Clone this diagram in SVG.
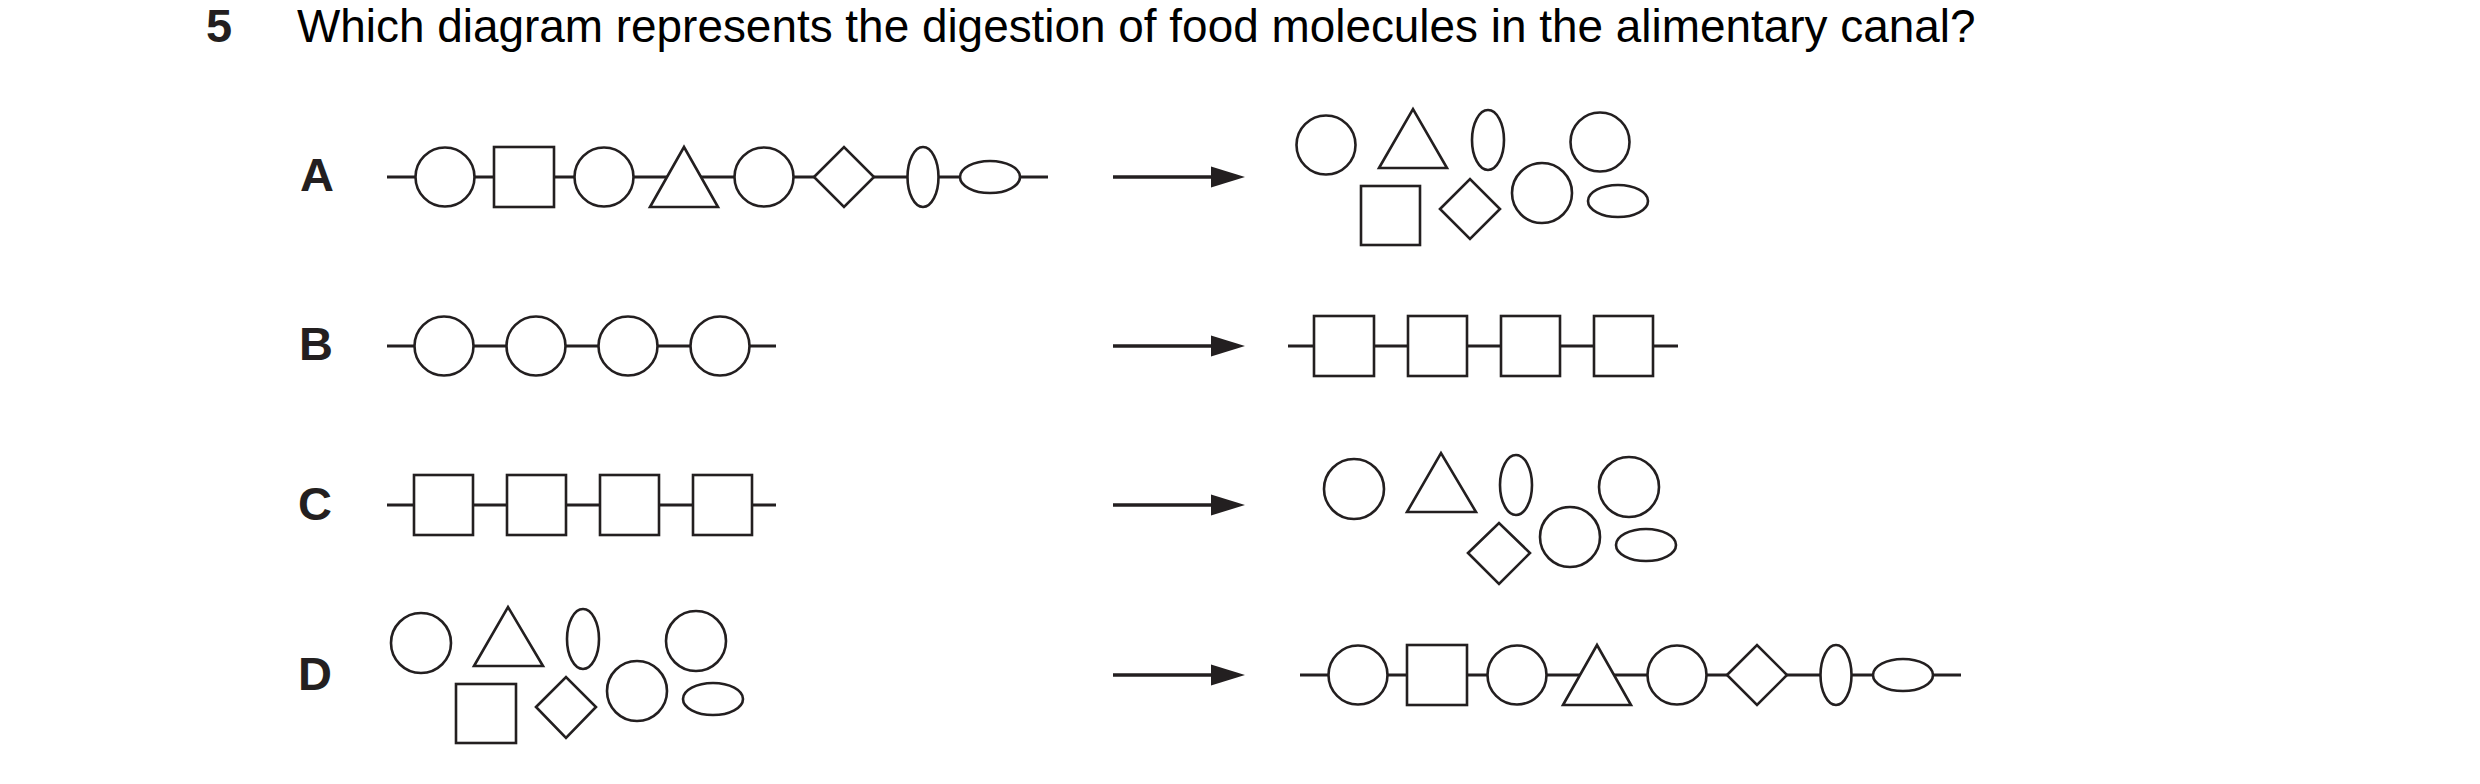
<svg xmlns="http://www.w3.org/2000/svg" xmlns:xlink="http://www.w3.org/1999/xlink" width="2480" height="784" viewBox="0 0 2480 784">
<style>
.s{fill:#fff;stroke:#231f20;stroke-width:2.6}
.l{fill:none;stroke:#231f20;stroke-width:3}
.a{fill:none;stroke:#231f20;stroke-width:3.5}
.h{fill:#231f20;stroke:none}
.q{font-family:"Liberation Sans",Arial,sans-serif;font-size:45.9px;fill:#000}
.b{font-family:"Liberation Sans",Arial,sans-serif;font-size:47px;font-weight:bold;fill:#231f20}
</style>
<defs>
<g id="chain">
<line class="l" x1="387" y1="0" x2="1048" y2="0"/>
<circle class="s" cx="445" cy="0" r="29.5"/>
<rect class="s" x="494" y="-30" width="60" height="60"/>
<circle class="s" cx="604" cy="0" r="29.5"/>
<polygon class="s" points="650,30 684,-30 718,30"/>
<circle class="s" cx="764" cy="0" r="29.5"/>
<polygon class="s" points="814,0 844,-30 874,0 844,30"/>
<ellipse class="s" cx="923" cy="0" rx="15.5" ry="30"/>
<ellipse class="s" cx="990" cy="0" rx="30" ry="16"/>
</g>
<g id="arrow">
<line class="a" x1="1113" y1="0" x2="1214" y2="0"/>
<polygon class="h" points="1211,-10.5 1245,0 1211,10.5"/>
</g>
</defs>
<g id="question">
<text class="b" x="206" y="42">5</text>
<text class="q" x="297" y="42">Which diagram represents the digestion of food molecules in the alimentary canal?</text>
</g>
<g id="connectors">
<use xlink:href="#arrow" href="#arrow" y="177"/>
<use xlink:href="#arrow" href="#arrow" y="346"/>
<use xlink:href="#arrow" href="#arrow" y="505"/>
<use xlink:href="#arrow" href="#arrow" y="675"/>
</g>
<g id="optionA">
<text class="b" x="300" y="191">A</text>
<use xlink:href="#chain" href="#chain" y="177"/>
<g id="A-products">
<circle class="s" cx="1326" cy="145" r="29.5"/>
<polygon class="s" points="1379,168 1413,109 1447,168"/>
<ellipse class="s" cx="1488" cy="140" rx="16" ry="30"/>
<circle class="s" cx="1600" cy="142" r="29.5"/>
<rect class="s" x="1361" y="186" width="59" height="59"/>
<polygon class="s" points="1440,209 1470,179 1500,209 1470,239"/>
<circle class="s" cx="1542" cy="193" r="30"/>
<ellipse class="s" cx="1618" cy="201" rx="30" ry="16"/>
</g>
</g>
<g id="optionB">
<text class="b" x="299" y="360">B</text>
<line class="l" x1="387" y1="346" x2="776" y2="346"/>
<circle class="s" cx="444" cy="346" r="29.5"/>
<circle class="s" cx="536" cy="346" r="29.5"/>
<circle class="s" cx="628" cy="346" r="29.5"/>
<circle class="s" cx="720" cy="346" r="29.5"/>
<line class="l" x1="1288" y1="346" x2="1678" y2="346"/>
<rect class="s" x="1314" y="316" width="60" height="60"/>
<rect class="s" x="1408" y="316" width="59" height="60"/>
<rect class="s" x="1501" y="316" width="59" height="60"/>
<rect class="s" x="1594" y="316" width="59" height="60"/>
</g>
<g id="optionC">
<text class="b" x="298" y="520">C</text>
<line class="l" x1="387" y1="505" x2="776" y2="505"/>
<rect class="s" x="414" y="475" width="59" height="60"/>
<rect class="s" x="507" y="475" width="59" height="60"/>
<rect class="s" x="600" y="475" width="59" height="60"/>
<rect class="s" x="693" y="475" width="59" height="60"/>
<circle class="s" cx="1354" cy="489" r="30"/>
<polygon class="s" points="1407,512 1441,453 1476,512"/>
<ellipse class="s" cx="1516" cy="485" rx="16" ry="30"/>
<circle class="s" cx="1629" cy="487" r="30"/>
<polygon class="s" points="1468,553 1499,523 1530,553 1499,584"/>
<circle class="s" cx="1570" cy="537" r="30"/>
<ellipse class="s" cx="1646" cy="545" rx="30" ry="16"/>
</g>
<g id="optionD">
<text class="b" x="298" y="690">D</text>
<circle class="s" cx="421" cy="643" r="30"/>
<polygon class="s" points="474,666 508,607 543,666"/>
<ellipse class="s" cx="583" cy="639" rx="16" ry="30"/>
<circle class="s" cx="696" cy="641" r="30"/>
<rect class="s" x="456" y="684" width="60" height="59"/>
<polygon class="s" points="536,707 566,677 596,707 566,738"/>
<circle class="s" cx="637" cy="691" r="30"/>
<ellipse class="s" cx="713" cy="699" rx="30" ry="16"/>
<use xlink:href="#chain" href="#chain" x="913" y="675"/>
</g>
</svg>
